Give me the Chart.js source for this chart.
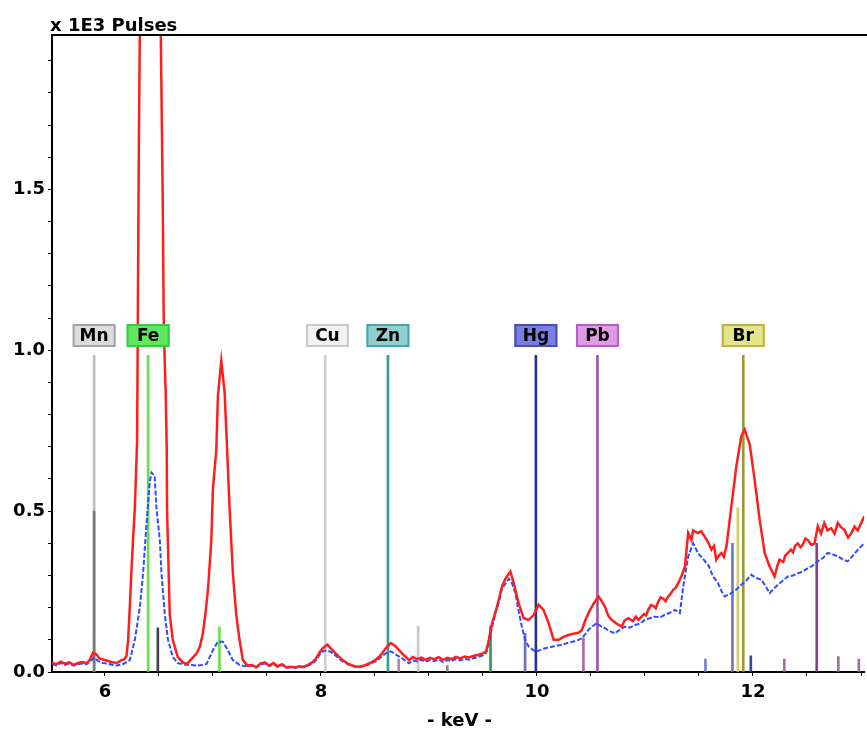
<!DOCTYPE html>
<html>
<head>
<meta charset="utf-8">
<title>XRF spectrum</title>
<script src="https://cdn.jsdelivr.net/npm/chart.js@4.4.1/dist/chart.umd.min.js"></script>
<style>
  body { margin: 0; background: #fff; }
  canvas { display: block; }
</style>
</head>
<body>
<canvas id="spectrum" width="867" height="729"></canvas>
<script>
// red spectrum (keV, x1E3 pulses)
const redKeV = [5.51, 5.55, 5.59, 5.63, 5.67, 5.71, 5.75, 5.79, 5.83, 5.86, 5.89, 5.92, 5.95, 5.99, 6.03, 6.07, 6.11, 6.15, 6.18, 6.20,
  6.215, 6.23, 6.245, 6.26, 6.277, 6.298, 6.314, 6.323, 6.34, 6.37, 6.42, 6.47, 6.50, 6.517, 6.535, 6.545, 6.563, 6.572, 6.575, 6.59,
  6.60, 6.628, 6.674, 6.72, 6.76, 6.80, 6.85, 6.88, 6.907, 6.93, 6.954, 6.985, 7.00, 7.031, 7.046, 7.077, 7.108, 7.125, 7.154, 7.184,
  7.215, 7.246, 7.277, 7.32, 7.36, 7.40, 7.44, 7.48, 7.52, 7.56, 7.60, 7.64, 7.68, 7.72, 7.76, 7.80, 7.84, 7.88, 7.92, 7.95,
  7.99, 8.02, 8.06, 8.10, 8.14, 8.20, 8.26, 8.31, 8.354, 8.40, 8.446, 8.50, 8.54, 8.57, 8.60, 8.646, 8.69, 8.75, 8.79, 8.815,
  8.85, 8.89, 8.93, 8.97, 9.01, 9.05, 9.09, 9.13, 9.17, 9.21, 9.25, 9.29, 9.33, 9.37, 9.41, 9.45, 9.50, 9.53, 9.554, 9.585,
  9.63, 9.677, 9.708, 9.754, 9.785, 9.83, 9.877, 9.923, 9.97, 10.015, 10.06, 10.108, 10.154, 10.20, 10.25, 10.29, 10.35, 10.385, 10.415, 10.447,
  10.477, 10.52, 10.57,
  10.60, 10.63, 10.66, 10.69, 10.74, 10.785, 10.81, 10.846, 10.89, 10.915, 10.94, 10.99, 11.01, 11.03, 11.055, 11.08, 11.10, 11.123, 11.145, 11.17,
  11.19, 11.215, 11.24, 11.26, 11.285, 11.308, 11.34, 11.37, 11.40, 11.43, 11.446, 11.49, 11.52, 11.554, 11.59, 11.615, 11.64, 11.66, 11.685, 11.708,
  11.73, 11.754, 11.80, 11.846, 11.892, 11.923, 11.97, 12.015, 12.062, 12.108, 12.154, 12.20, 12.225, 12.246, 12.28, 12.30, 12.323, 12.35, 12.37, 12.39,
  12.415, 12.44, 12.46, 12.485, 12.508, 12.54, 12.57, 12.60, 12.63, 12.66, 12.69, 12.723, 12.755, 12.785, 12.815, 12.846, 12.88, 12.908, 12.94, 12.97,
  13.03];
const redPulses = [0.030, 0.024, 0.032, 0.026, 0.030, 0.022, 0.028, 0.031, 0.027, 0.038, 0.060, 0.055, 0.042, 0.038, 0.034, 0.030, 0.028, 0.036, 0.040, 0.050,
  0.100, 0.200, 0.310, 0.410, 0.510, 0.720, 1.630, 1.990, 2.690, 4.160, 5.500, 4.160, 2.690, 1.990, 1.470, 1.070, 0.860, 0.700, 0.510, 0.310,
  0.180, 0.100, 0.047, 0.030, 0.025, 0.040, 0.058, 0.080, 0.120, 0.180, 0.255, 0.410, 0.570, 0.690, 0.857, 0.967, 0.870, 0.740, 0.510, 0.310,
  0.180, 0.100, 0.037, 0.020, 0.022, 0.015, 0.026, 0.030, 0.020, 0.028, 0.018, 0.024, 0.014, 0.016, 0.014, 0.018, 0.016, 0.022, 0.030, 0.040,
  0.062, 0.075, 0.085, 0.070, 0.056, 0.037, 0.024, 0.018, 0.016, 0.020, 0.027, 0.036, 0.048, 0.060, 0.074, 0.090, 0.080, 0.058, 0.045, 0.037,
  0.047, 0.040, 0.045, 0.038, 0.044, 0.040, 0.046, 0.038, 0.044, 0.040, 0.047, 0.042, 0.048, 0.045, 0.050, 0.053, 0.058, 0.064, 0.100, 0.152,
  0.203, 0.266, 0.290, 0.312, 0.276, 0.214, 0.167, 0.162, 0.177, 0.209, 0.193, 0.152, 0.100, 0.100, 0.110, 0.115, 0.120, 0.122, 0.130, 0.160,
  0.183, 0.210, 0.235,
  0.220, 0.203, 0.175, 0.162, 0.150, 0.141, 0.160, 0.167, 0.158, 0.172, 0.162, 0.180, 0.176, 0.193, 0.208, 0.205, 0.198, 0.219, 0.232, 0.228,
  0.220, 0.235, 0.244, 0.255, 0.262, 0.276, 0.300, 0.328, 0.432, 0.410, 0.440, 0.432, 0.438, 0.420, 0.400, 0.380, 0.392, 0.349, 0.362, 0.370,
  0.358, 0.390, 0.515, 0.640, 0.733, 0.754, 0.707, 0.598, 0.473, 0.370, 0.328, 0.297, 0.330, 0.349, 0.342, 0.362, 0.370, 0.380, 0.372, 0.392,
  0.400, 0.388, 0.395, 0.415, 0.410, 0.395, 0.400, 0.453, 0.430, 0.463, 0.440, 0.447, 0.430, 0.463, 0.450, 0.442, 0.418, 0.430, 0.452, 0.440,
  0.484];

// blue spectrum
const blueKeV = [5.51, 5.55, 5.59, 5.63, 5.67, 5.71, 5.75, 5.79, 5.83, 5.87, 5.90, 5.94, 5.98, 6.03, 6.07, 6.108, 6.17, 6.231, 6.277, 6.323,
  6.354, 6.385, 6.415, 6.431, 6.46, 6.477, 6.508, 6.523, 6.554, 6.584, 6.628, 6.674, 6.72, 6.78, 6.85, 6.90, 6.94, 7.00, 7.046, 7.092,
  7.138, 7.184, 7.246, 7.30, 7.36, 7.40, 7.44, 7.48, 7.52, 7.56, 7.60, 7.64, 7.68, 7.72, 7.76, 7.80, 7.84, 7.88, 7.92, 7.95,
  7.99, 8.02, 8.06, 8.10, 8.14, 8.20, 8.26, 8.31, 8.354, 8.40, 8.446, 8.50, 8.54, 8.60, 8.646, 8.69, 8.75, 8.815, 8.85, 8.89,
  8.93, 8.97, 9.01, 9.05, 9.09, 9.13, 9.17, 9.21, 9.25, 9.29, 9.33, 9.37, 9.41, 9.45, 9.50, 9.53, 9.554, 9.585, 9.616, 9.65,
  9.677, 9.74, 9.77, 9.80, 9.83, 9.86, 9.89, 9.923, 9.985, 10.03, 10.077, 10.13, 10.18, 10.23, 10.28, 10.33, 10.385, 10.415, 10.447, 10.477,
  10.515, 10.554, 10.60, 10.63, 10.67, 10.72, 10.77, 10.815, 10.86, 10.908, 10.95, 11.00, 11.05, 11.09, 11.14, 11.185, 11.23, 11.277, 11.323, 11.354,
  11.40, 11.446, 11.49, 11.554, 11.59, 11.63, 11.677, 11.71, 11.738, 11.77, 11.80, 11.85, 11.892, 11.94, 11.985, 12.03, 12.077, 12.12, 12.154, 12.19,
  12.23, 12.28, 12.323, 12.37, 12.415, 12.46, 12.508, 12.55, 12.60, 12.65, 12.692, 12.74, 12.785, 12.83, 12.877, 12.92, 12.97, 13.03];
const bluePulses = [0.026, 0.020, 0.028, 0.022, 0.026, 0.020, 0.024, 0.026, 0.024, 0.036, 0.044, 0.034, 0.028, 0.026, 0.022, 0.020, 0.025, 0.037, 0.100, 0.200,
  0.310, 0.460, 0.590, 0.620, 0.610, 0.510, 0.410, 0.310, 0.180, 0.100, 0.047, 0.028, 0.024, 0.022, 0.020, 0.022, 0.025, 0.068, 0.094, 0.094,
  0.068, 0.037, 0.022, 0.018, 0.020, 0.014, 0.022, 0.026, 0.018, 0.024, 0.016, 0.022, 0.013, 0.015, 0.013, 0.016, 0.015, 0.020, 0.026, 0.035,
  0.055, 0.064, 0.068, 0.060, 0.050, 0.033, 0.022, 0.017, 0.015, 0.018, 0.024, 0.032, 0.042, 0.058, 0.064, 0.055, 0.043, 0.027, 0.036, 0.033,
  0.038, 0.032, 0.037, 0.034, 0.039, 0.031, 0.037, 0.034, 0.040, 0.036, 0.041, 0.038, 0.043, 0.046, 0.052, 0.060, 0.090, 0.140, 0.183, 0.220,
  0.260, 0.290, 0.275, 0.245, 0.190, 0.141, 0.100, 0.079, 0.063, 0.068, 0.074, 0.078, 0.082, 0.084, 0.090, 0.094, 0.100, 0.105, 0.118, 0.131,
  0.142, 0.152, 0.140, 0.136, 0.128, 0.120, 0.132, 0.141, 0.138, 0.146, 0.150, 0.162, 0.168, 0.172, 0.170, 0.178, 0.184, 0.193, 0.183, 0.266,
  0.359, 0.400, 0.370, 0.345, 0.330, 0.297, 0.276, 0.250, 0.235, 0.240, 0.245, 0.258, 0.271, 0.285, 0.302, 0.292, 0.287, 0.265, 0.245, 0.258,
  0.271, 0.285, 0.297, 0.300, 0.307, 0.312, 0.323, 0.330, 0.344, 0.355, 0.370, 0.365, 0.360, 0.350, 0.344, 0.360, 0.380, 0.400];

// element lines (keV, height, colour)
const lineKeV = [5.90, 5.90, 6.40, 6.49, 7.06, 8.04, 8.62, 8.72, 8.90, 9.17, 9.57, 9.89, 9.99, 10.43, 10.56,
  11.56, 11.81, 11.86, 11.91, 11.98, 12.29, 12.59, 12.79, 12.98];
const lineHeight = [0.984, 0.50, 0.984, 0.137, 0.14, 0.984, 0.984, 0.04, 0.143, 0.02, 0.143, 0.12, 0.984, 0.106, 0.984,
  0.04, 0.40, 0.51, 0.984, 0.05, 0.04, 0.40, 0.048, 0.04];
const lineColors = ['#bdbdbd', '#7a7a7a', '#66e04a', '#444444', '#66e04a', '#cfcfcf', '#3e9a9a', '#b08aa8', '#c8c8c8', '#888888', '#2f9a5e', '#7070b8', '#2e3580', '#b06a9e', '#9a59a8',
  '#8080c8', '#6a78c8', '#d2d060', '#9a9a38', '#3848a0', '#a070a8', '#8a3c98', '#a070a8', '#a070a8'];

// element tags
const tagNames = ['Mn', 'Fe', 'Cu', 'Zn', 'Hg', 'Pb', 'Br'];
const tagKeV = [5.90, 6.40, 8.06, 8.62, 9.99, 10.56, 11.91];
const tagFill = ['#dcdcdc', '#5fe85f', '#f2f2f2', '#8fd0d0', '#7a7ee0', '#e09ae6', '#e4e48a'];
const tagEdge = ['#a4a4a4', '#3cc83c', '#c8c8c8', '#4aa6a6', '#4a4eb0', '#b060c0', '#b4b44a'];

const yTicks = [0, 0.1, 0.2, 0.3, 0.4, 0.5, 0.6, 0.7, 0.8, 0.9, 1.0, 1.1, 1.2, 1.3, 1.4, 1.5, 1.6, 1.7, 1.8, 1.9];
const xTicks = [6, 6.5, 7, 7.5, 8, 8.5, 9, 9.5, 10, 10.5, 11, 11.5, 12, 12.5, 13];

const FONT = '"DejaVu Sans", sans-serif';

const toPoints = (xs, ys) => xs.map((x, i) => ({ x: x, y: ys[i] }));

const decorations = {
  id: 'decorations',
  afterDatasetsDraw(chart) {
    const { ctx, chartArea, scales } = chart;
    ctx.save();
    // top frame
    ctx.strokeStyle = '#000';
    ctx.lineWidth = 2;
    ctx.beginPath();
    ctx.moveTo(chartArea.left - 1, chartArea.top);
    ctx.lineTo(chart.width, chartArea.top);
    ctx.stroke();

    // element tags
    const boxY = scales.y.getPixelForValue(1.046);
    ctx.font = 'bold 17px ' + FONT;
    ctx.textAlign = 'center';
    ctx.textBaseline = 'middle';
    tagNames.forEach((name, i) => {
      const cx = scales.x.getPixelForValue(tagKeV[i]);
      const w = 43, h = 23;
      ctx.fillStyle = tagFill[i];
      ctx.fillRect(cx - w / 2, boxY - h / 2, w, h);
      ctx.strokeStyle = tagEdge[i];
      ctx.lineWidth = 2;
      ctx.strokeRect(cx - w / 2 + 1, boxY - h / 2 + 1, w - 2, h - 2);
      ctx.fillStyle = '#000';
      ctx.fillText(name, cx, boxY + 1);
    });

    // axis titles
    ctx.font = 'bold 18px ' + FONT;
    ctx.textAlign = 'left';
    ctx.textBaseline = 'alphabetic';
    ctx.fillText('x 1E3 Pulses', chartArea.left - 2, 31);
    ctx.textAlign = 'center';
    ctx.fillText('- keV -', (chartArea.left + chart.width) / 2, 726);
    ctx.restore();
  }
};

new Chart(document.getElementById('spectrum'), {
  type: 'line',
  data: {
    datasets: [
      {
        label: 'red',
        data: toPoints(redKeV, redPulses),
        borderColor: '#ff1e1e',
        borderWidth: 2.5,
        pointRadius: 0,
        tension: 0,
        order: 0
      },
      {
        label: 'blue',
        data: toPoints(blueKeV, bluePulses),
        borderColor: '#2f4dff',
        borderWidth: 2,
        borderDash: [5, 2],
        pointRadius: 0,
        tension: 0,
        order: 1
      },
      {
        type: 'bar',
        label: 'lines',
        data: toPoints(lineKeV, lineHeight),
        backgroundColor: lineColors,
        barThickness: 2,
        order: 2
      }
    ]
  },
  options: {
    responsive: false,
    animation: false,
    layout: { padding: { top: 35, left: 0, right: -3, bottom: 0 } },
    plugins: {
      legend: { display: false },
      tooltip: { enabled: false }
    },
    scales: {
      x: {
        type: 'linear',
        min: 5.51,
        max: 13.03,
        offset: false,
        afterBuildTicks: (axis) => { axis.ticks = xTicks.map(v => ({ value: v })); },
        afterFit: (axis) => { axis.height = 57; },
        border: { color: '#000', width: 2 },
        grid: { drawOnChartArea: false, tickLength: 4, tickColor: '#000', offset: false },
        ticks: {
          autoSkip: false,
          maxRotation: 0,
          padding: 6,
          color: '#000',
          font: { family: FONT, size: 18, weight: 'bold' },
          callback: (v) => (v % 2 === 0 ? String(v) : '')
        }
      },
      y: {
        min: 0,
        max: 1.98,
        afterBuildTicks: (axis) => { axis.ticks = yTicks.map(v => ({ value: v })); },
        afterFit: (axis) => { axis.width = 52; },
        border: { color: '#000', width: 2 },
        grid: { drawOnChartArea: false, tickLength: 4, tickColor: '#000' },
        ticks: {
          autoSkip: false,
          padding: 3,
          color: '#000',
          font: { family: FONT, size: 18, weight: 'bold' },
          callback: (v) => (Math.round(v * 10) % 5 === 0 ? v.toFixed(1) : '')
        }
      }
    }
  },
  plugins: [decorations]
});
</script>
</body>
</html>
